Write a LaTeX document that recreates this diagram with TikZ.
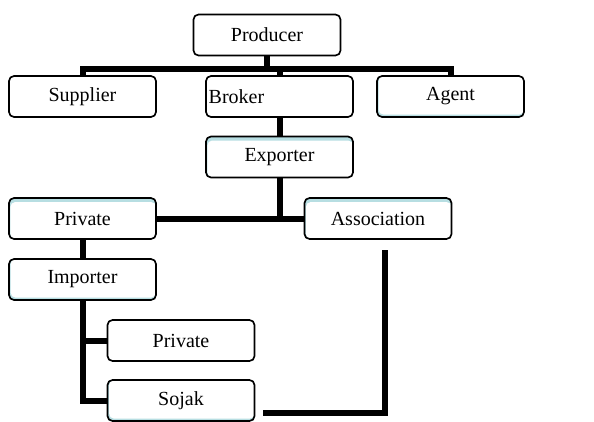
\documentclass[tikz,border=0pt]{standalone}
\usepackage{fontspec}
\setmainfont{Liberation Serif}
\definecolor{boxtint}{RGB}{183,222,226}

\begin{document}
\begin{tikzpicture}[x=0.6pt, y=-0.6pt,
        plain/.style = {draw=black, line width=1pt, fill=white, rounded corners=3pt, inner sep=0pt,
                        minimum width=88.2pt, minimum height=24.6pt, font=\fontsize{12}{14}\selectfont},
        toptint/.style = {plain, fill=boxtint,
                        path picture={\fill[white] ([xshift=0.8pt]path picture bounding box.south west) rectangle ([yshift=-2.4pt]path picture bounding box.north east);}},
        bottint/.style = {plain, fill=boxtint,
                        path picture={\fill[white] ([xshift=1pt,yshift=1.4pt]path picture bounding box.south west) rectangle (path picture bounding box.north east);}},
        conn/.style = {draw=black, line width=3.6pt}]
    \useasboundingbox (0,0) rectangle (594,421);

    % connectors first, boxes on top
    \coordinate (bus) at (267,69);
    \coordinate (split) at (279.5,219);
    \coordinate (assocend) at (385,250);
    \coordinate (sojakend) at (263,413);

    \node[plain] (producer) at (267,35) {Producer};
    \node[plain] (supplier) at (82.5,96.5) {Supplier};
    \node[plain, text width=85pt, align=left] (broker) at (279.5,96.5) {Broker};
    \node[bottint] (agent) at (450.5,96.5) {\raisebox{2pt}{Agent}};
    \node[toptint] (exporter) at (279.5,157) {Exporter};
    \node[toptint] (private) at (82.5,218.5) {Private};
    \node[toptint] (association) at (378,218.5) {Association};
    \node[bottint] (importer) at (82.5,279.5) {Importer};
    \node[plain] (private2) at (181,340.5) {Private};
    \node[bottint] (sojak) at (181,400.5) {Sojak};

    \draw[conn] (producer) -- (bus);
    \draw[conn] (supplier.north) -- (supplier.north |- bus) -- (agent.north |- bus) -- (agent.north);
    \draw[conn] (broker.north) -- (broker.north |- bus);
    \draw[conn] (broker) -- (exporter);
    \draw[conn] (exporter) -- (split);
    \draw[conn] (private) -- (association);
    \draw[conn] (private) -- (importer);
    \draw[conn] (importer.south) |- (sojak.west);
    \draw[conn] (importer.south |- private2.west) -- (private2.west);
    \draw[conn] (assocend) |- (sojakend);
\end{tikzpicture}
\end{document}
